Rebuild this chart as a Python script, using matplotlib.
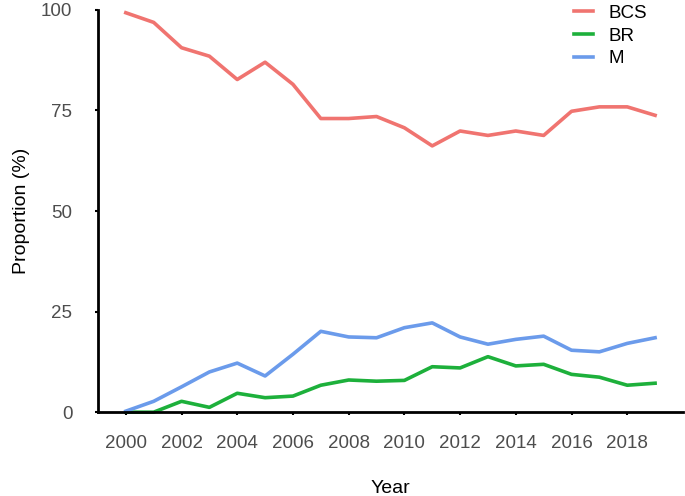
import numpy as np
import matplotlib.pyplot as plt

plt.rcParams['font.family'] = ['Liberation Sans', 'DejaVu Sans']

years = np.arange(2000, 2020)
bcs = [99.3, 96.9, 90.6, 88.5, 82.7, 87.0, 81.5, 73.0, 73.0, 73.5,
       70.7, 66.2, 69.9, 68.8, 69.9, 68.8, 74.8, 75.9, 75.9, 73.8]
br = [0.0, 0.0, 2.7, 1.2, 4.7, 3.6, 4.0, 6.7, 8.0, 7.7,
      7.9, 11.3, 11.0, 13.8, 11.5, 11.9, 9.4, 8.7, 6.7, 7.2]
m = [0.25, 2.7, 6.3, 10.0, 12.2, 9.0, 14.4, 20.1, 18.7, 18.5,
     21.0, 22.2, 18.7, 16.9, 18.1, 18.9, 15.4, 15.0, 17.1, 18.5]

fig = plt.figure(figsize=(6.85, 4.96), dpi=100)
ax = fig.add_axes([0.143, 0.169, 0.854, 0.811])

ax.plot(years, bcs, color='#F07470', lw=2.6, label='BCS', clip_on=False)
ax.plot(years, br, color='#1DB03B', lw=2.6, label='BR', clip_on=False)
ax.plot(years, m, color='#6B9BEB', lw=2.6, label='M', clip_on=False)

ax.set_xlim(1999, 2020)
ax.set_ylim(0, 100)
ax.set_xticks(np.arange(2000, 2019, 2))
ax.set_yticks([0, 25, 50, 75, 100])
ax.spines['top'].set_visible(False)
ax.spines['right'].set_visible(False)
ax.spines['left'].set_linewidth(2)
ax.spines['bottom'].set_linewidth(2)
ax.tick_params(length=2.5, width=1.5, labelsize=13.5, labelcolor='#4d4d4d', pad=14)
ax.tick_params(axis='y', pad=16)

ax.set_xlabel('Year', fontsize=14, labelpad=20)
ax.set_ylabel('Proportion (%)', fontsize=14, labelpad=8)

ax.legend(loc='upper right', bbox_to_anchor=(0.967, 1.055), frameon=False, fontsize=13.5,
          handlelength=1.0, handletextpad=0.8, labelspacing=0.3)

fig.savefig('out.png', dpi=100)
